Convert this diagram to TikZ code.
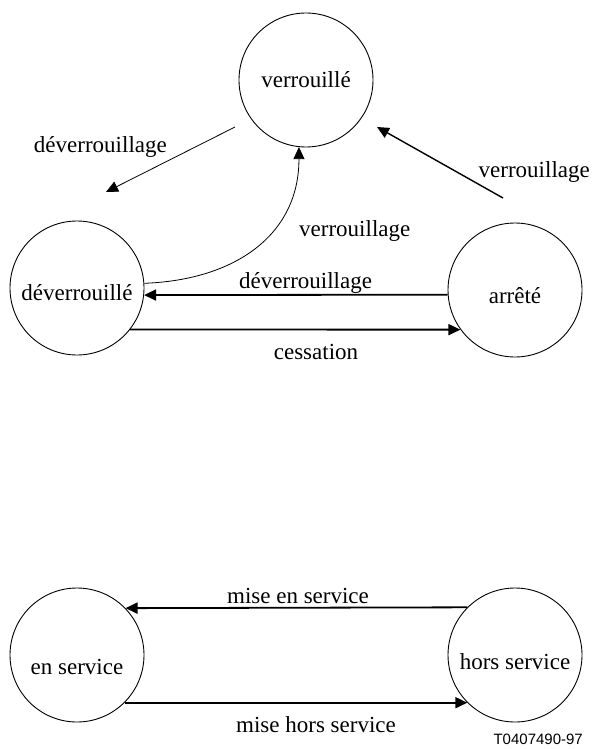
\documentclass[tikz,border=0pt]{standalone}
\usepackage{fontspec}
\setmainfont{Liberation Serif}
\newfontfamily\refsans{Liberation Sans}
\usetikzlibrary{arrows.meta}

\begin{document}
\begin{tikzpicture}[x=1pt,y=-1pt,
		state/.style={draw,circle,line width=0.9pt,minimum size=134pt,inner sep=0pt,
			text depth=0pt,font=\fontsize{23}{27}\selectfont},
		lbl/.style={inner sep=0pt,font=\fontsize{23}{27}\selectfont},
		tip/.style={-{Triangle[length=12pt,width=11pt]}}]
	\useasboundingbox (0,0) rectangle (592,749);

	% etats du haut
	\node[state,text height=16pt] (verr) at (306,80) {verrouillé};
	\node[state,text height=24pt] (dev) at (77,288) {déverrouillé};
	\node[state,text height=26pt] (arr) at (515,290) {arrêté};

	\coordinate (dvStart) at (235,127);
	\coordinate (dvEnd) at (106,192);
	\coordinate (vStart) at (503,198);
	\coordinate (vEnd) at (377,127);

	\draw[tip,line width=0.8pt] (dvStart) -- (dvEnd);
	\draw[tip,line width=0.8pt] (dev.4) .. controls (235,280) and (299,235) .. (verr.264);
	\draw[tip,line width=1.4pt] (vStart) -- (vEnd);
	\draw[tip,line width=1.8pt] (arr.184.3) -- (dev.-6);
	\draw[tip,line width=1.8pt] (dev.-38.8) -- (arr.216.7);

	\node[lbl,anchor=base east] (lblDv1) at (167,152) {déverrouillage};
	\node[lbl,anchor=base west] (lblV1) at (299,236) {verrouillage};
	\node[lbl,anchor=base east] (lblV2) at (590,177) {verrouillage};
	\node[lbl,anchor=base west] (lblDv2) at (239,288) {déverrouillage};
	\node[lbl,anchor=base] (lblCess) at (316,359) {cessation};

	% etats du bas
	\node[state,text height=38pt] (enserv) at (77,655) {en service};
	\node[state,text height=28pt] (horsserv) at (515,655) {hors service};

	\draw[tip,line width=1.8pt] (horsserv.135.5) -- (enserv.44.5);
	\draw[tip,line width=1.8pt] (enserv.-45.8) -- (horsserv.225.8);

	\node[lbl,anchor=base] (lblMes) at (298,603) {mise en service};
	\node[lbl,anchor=base] (lblMhs) at (316,732) {mise hors service};

	\node[inner sep=0pt,anchor=base east,font=\refsans\fontsize{15}{18}\selectfont] (ref) at (583,744) {T0407490-97};
\end{tikzpicture}
\end{document}
